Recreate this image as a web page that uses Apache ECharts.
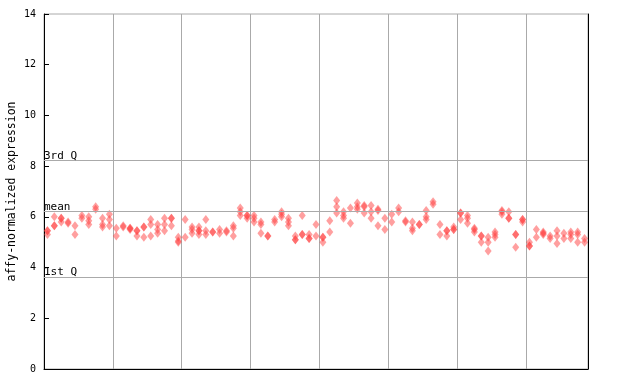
<!DOCTYPE html>
<html>
<head>
<meta charset="utf-8">
<script src="https://cdn.jsdelivr.net/npm/echarts@6/dist/echarts.min.js"></script>
<style>html,body{margin:0;padding:0;background:#fff;}#c{width:640px;height:384px;}</style>
</head>
<body>
<div id="c"></div>
<script>
// replicate values per sample column, grouped by section (10 samples each)
const sec1 = [[5.45,5.45,5.3],[6.0,5.65,5.65],[5.95,5.95,5.8],[5.8,5.75],[5.65,5.3],[6.05,5.95],[6.0,5.85,5.7],[6.4,6.3],[5.95,5.7,5.6],[6.1,5.9,5.65]];
const sec2 = [[5.55,5.25],[5.65,5.6],[5.55,5.55,5.5],[5.45,5.45,5.25],[5.6,5.6,5.2],[5.9,5.7,5.25],[5.7,5.5,5.35],[5.95,5.7,5.45],[5.95,5.95,5.65],[5.2,5.05,5.0]];
const sec3 = [[5.9,5.2],[5.6,5.5,5.35],[5.6,5.45,5.45,5.3],[5.9,5.45,5.3],[5.4,5.4],[5.5,5.35],[5.45,5.4],[5.65,5.55,5.25],[6.35,6.2,6.05],[6.05,6.05,5.95]];
const sec4 = [[6.05,5.95,5.8],[5.8,5.7,5.35],[5.25,5.25],[5.9,5.8],[6.2,6.1,6.0],[5.95,5.8,5.65],[5.25,5.1,5.1],[6.05,5.3,5.3],[5.3,5.15,5.15],[5.7,5.25]];
const sec5 = [[5.2,5.2,5.0],[5.85,5.4],[6.65,6.4,6.15],[6.2,6.05,5.95],[6.35,5.75],[6.55,6.4,6.3],[6.45,6.4,6.15],[6.45,6.2,5.95],[6.3,6.25,5.65],[5.95,5.5]];
const sec6 = [[6.1,5.8],[6.35,6.2],[5.85,5.8],[5.8,5.55,5.45],[5.7,5.7],[6.25,6.0,5.9],[6.6,6.5],[5.7,5.3],[5.45,5.45,5.25],[5.6,5.5,5.5]];
const sec7 = [[6.15,6.15,5.9],[6.05,5.95,5.75],[5.55,5.5,5.4],[5.25,5.25,5.0],[5.2,5.0,4.65],[5.4,5.3,5.2],[6.25,6.2,6.1],[6.2,5.95,5.95],[5.3,5.3,4.8],[5.9,5.9,5.8]];
const sec8 = [[5.0,4.85,4.85],[5.5,5.2],[5.4,5.35,5.3],[5.25,5.15],[5.45,5.25,4.95],[5.35,5.15],[5.4,5.3,5.15],[5.4,5.3,5.0],[5.15,5.0]];
const quartiles = [{name:'3rd Q', value:8.23},{name:'mean', value:6.22},{name:'1st Q', value:3.63}];
const yTicks = [0,2,4,6,8,10,12,14];
const yTitle = 'affy-normalized expression';

const columns = [].concat(sec1,sec2,sec3,sec4,sec5,sec6,sec7,sec8);
const pts = [];
columns.forEach((vals,i)=>vals.forEach(v=>pts.push([i+0.5,v])));
const nCols = columns.length;

const chart = echarts.init(document.getElementById('c'));
const mono = 'DejaVu Sans Mono';
chart.setOption({
  animation:false,
  grid:{left:44,right:52,top:14,bottom:15,containLabel:false,outerBoundsMode:'none',
        show:true,borderColor:'#aaaaaa',borderWidth:1,backgroundColor:'transparent'},
  xAxis:[
    {type:'value',min:0,max:nCols,interval:10,
     axisLine:{show:true,onZero:false,lineStyle:{color:'#000',width:1}},axisTick:{show:false},axisLabel:{show:false},
     splitLine:{show:true,lineStyle:{color:'#aaaaaa',width:1}}}
  ],
  yAxis:[
    {type:'value',min:0,max:14,interval:2,
     name:yTitle,nameLocation:'middle',nameGap:26,nameMoveOverlap:false,
     nameTextStyle:{fontFamily:mono,fontSize:11.5,color:'#000'},
     axisLine:{show:true,onZero:false,lineStyle:{color:'#000',width:1}},
     axisTick:{show:true,inside:true,length:5,lineStyle:{color:'#000'}},
     axisLabel:{fontFamily:mono,fontSize:10,color:'#000',margin:8,
       formatter:v=>yTicks.includes(v)?String(v):''},
     splitLine:{show:false}},
    {type:'value',position:'right',min:0,max:14,interval:2,
     axisLine:{show:true,onZero:false,lineStyle:{color:'#000',width:1}},axisTick:{show:false},axisLabel:{show:false},splitLine:{show:false}}
  ],
  series:[{
    type:'scatter',
    data:pts,
    symbol:'diamond',
    symbolSize:[7,9],
    itemStyle:{color:'rgba(255,60,60,0.62)',borderWidth:0},
    markLine:{
      silent:true,symbol:'none',
      lineStyle:{color:'#aaaaaa',width:1,type:'solid'},
      label:{show:true,position:'insideStartTop',distance:[0,-1],formatter:p=>p.name,
        fontFamily:mono,fontSize:11,color:'#000',padding:0},
      data:quartiles.map(q=>({name:q.name,yAxis:q.value}))
    }
  }]
});
</script>
</body>
</html>
